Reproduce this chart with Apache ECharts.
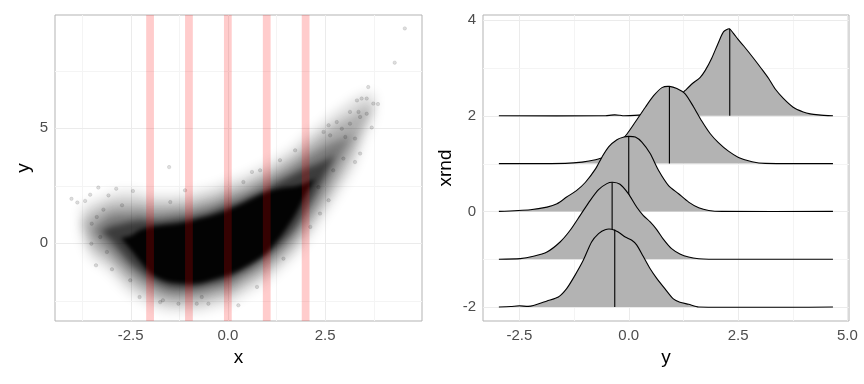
<!DOCTYPE html>
<html><head><meta charset="utf-8">
<script src="https://cdn.jsdelivr.net/npm/echarts@6/dist/echarts.min.js"></script>
<style>html,body{margin:0;padding:0;background:#fff}#c{width:864px;height:384px}</style>
</head><body><div id="c"></div>
<script>
// ---------------- data ----------------
// Left panel: red selection bands around these x values (half width in x units)
const bandCenters = [-2, -1, 0, 1, 2];
const bandHalf = 0.1;

// Point cloud described column by column: x, centre of cloud, and half-heights of
// nested density levels (sparse halo -> black core); 0 = level vanishes there.
const cloudX   = [-3.75,-3.5,-3.25,-3,-2.75,-2.5,-2.25,-2,-1.75,-1.5,-1.25,-1,-0.75,-0.5,-0.25,0,0.25,0.5,0.75,1,1.25,1.5,1.75,2,2.25,2.5,2.75,3,3.25,3.5,3.75];
const cloudMid = [0.9,0.55,0.5,0.42,0.22,0.02,-0.12,-0.3,-0.4,-0.45,-0.45,-0.42,-0.35,-0.25,-0.12,0.02,0.2,0.42,0.65,0.9,1.2,1.52,1.88,2.35,2.8,3.3,3.8,4.3,4.8,5.5,6.0];
const levelHalo = [0.6,1.2,1.45,1.7,2.0,2.2,2.3,2.35,2.45,2.5,2.5,2.55,2.6,2.6,2.6,2.65,2.6,2.55,2.55,2.5,2.45,2.4,2.35,2.3,2.15,2.0,1.85,1.65,1.45,0.95,0.45];
const levelLight = [0,0.7,1.0,1.25,1.5,1.7,1.85,1.95,2.05,2.1,2.15,2.15,2.2,2.2,2.2,2.25,2.2,2.15,2.15,2.1,2.05,2.0,1.9,1.8,1.65,1.5,1.3,1.05,0.75,0.35,0];
const levelMid = [0,0,0.45,0.8,1.05,1.25,1.45,1.55,1.65,1.75,1.8,1.8,1.85,1.85,1.85,1.9,1.85,1.8,1.8,1.75,1.7,1.6,1.5,1.35,1.15,0.9,0.6,0.25,0,0,0];
const levelDark = [0,0,0,0.3,0.6,0.9,1.1,1.25,1.35,1.45,1.5,1.55,1.55,1.55,1.6,1.6,1.55,1.55,1.5,1.45,1.4,1.3,1.15,0.9,0.6,0.3,0,0,0,0,0];
const levelCore = [0,0,0,0,0,0.3,0.7,1.0,1.15,1.25,1.3,1.35,1.4,1.4,1.4,1.42,1.42,1.4,1.38,1.32,1.15,0.9,0.6,0.25,0,0,0,0,0,0,0];

// isolated points visible around the cloud
const sparsePoints = [
  [-4.02,1.92],[-3.87,1.76],[-3.67,1.83],[-3.54,2.1],[-3.33,2.41],[-3.07,2.07],[-2.87,2.36],[-2.44,2.26],
  [-3.39,-0.97],[-2.98,-1.14],[-3.51,-0.03],[-3.37,1.13],[-3.5,0.84],[-3.2,1.45],[-2.72,1.64],[-2.27,-2.35],
  [-1.74,-2.57],[-2.51,-1.62],[-3.28,0.26],[-3.11,-0.39],[-1.51,3.3],[-1.1,2.29],[0.62,3.09],[0.83,3.16],
  [0.27,-2.71],[-0.5,-2.64],[-0.8,-2.64],[-1.27,-2.64],[-1.67,-2.49],[-0.67,-2.35],[-1.48,1.78],[0.4,2.65],
  [0.75,-1.91],[3.61,6.78],[3.44,6.28],[3.57,6.28],[3.74,6.06],[3.32,6.2],[3.14,5.7],[3.36,5.7],[3.7,5.02],
  [3.27,3.52],[3.4,3.89],[3.02,4.61],[2.8,5.26],[2.59,5.12],[2.46,4.83],[2.37,1.28],[2.59,1.86],[2.12,0.7],
  [1.43,-0.68],[1.73,4.03],[1.34,3.6],[4.55,9.33],[4.29,7.84],[3.86,6.04],
  [2.63,4.68],[2.93,4.97],[3.14,5.19],[3.27,4.54],[2.97,3.67],[2.71,3.16],[2.33,2.43],[3.4,5.48],[3.57,5.62]
];

// Right panel: ridgeline densities (x = y value, h = height above the ridge baseline)
const ridgeLevels = [2, 1, 0, -1, -2];
const ridge2X = [-2.97,-0.53,-0.4,-0.32,-0.2,-0.11,0.3,0.6,0.9,1.1,1.29,1.45,1.63,1.75,1.9,2.05,2.17,2.3,2.39,2.5,2.63,2.84,3.04,3.2,3.35,3.53,3.76,3.99,4.15,4.34,4.67];
const ridge2H = [0,0,0.015,0.02,0.01,0,0.02,0.08,0.22,0.36,0.53,0.67,0.8,0.95,1.21,1.53,1.76,1.82,1.73,1.6,1.46,1.22,0.98,0.78,0.56,0.37,0.18,0.08,0.04,0.02,0];
const ridge1X = [-2.97,-1.45,-1.07,-0.76,-0.57,-0.3,-0.04,0.15,0.38,0.57,0.76,0.93,1.1,1.29,1.48,1.67,1.86,2.05,2.28,2.51,2.82,3.12,4.67];
const ridge1H = [0,0.005,0.03,0.08,0.14,0.35,0.62,0.87,1.18,1.42,1.59,1.615,1.57,1.46,1.19,0.89,0.63,0.44,0.26,0.13,0.04,0.005,0];
const ridge0X = [-2.97,-2.25,-1.87,-1.64,-1.42,-1.19,-0.99,-0.76,-0.61,-0.46,-0.27,-0.11,0,0.15,0.3,0.49,0.68,0.91,1.14,1.37,1.6,1.83,2.13,4.67];
const ridge0H = [0,0.035,0.09,0.16,0.3,0.44,0.61,0.89,1.14,1.35,1.5,1.555,1.57,1.555,1.45,1.21,0.86,0.54,0.37,0.195,0.077,0.02,0,0];
const ridgeM1X = [-2.97,-2.48,-2.18,-1.87,-1.57,-1.34,-1.11,-0.88,-0.69,-0.5,-0.37,-0.2,-0.01,0.18,0.33,0.49,0.64,0.79,0.98,1.17,1.37,1.6,1.83,4.67];
const ridgeM1H = [0,0.012,0.061,0.151,0.36,0.605,0.918,1.232,1.455,1.581,1.609,1.567,1.371,1.092,0.918,0.779,0.62,0.42,0.22,0.11,0.045,0.01,0,0];
const ridgeM2X = [-2.97,-2.7,-2.5,-2.3,-2.18,-1.87,-1.61,-1.42,-1.23,-1.04,-0.85,-0.69,-0.54,-0.39,-0.24,-0.08,0.07,0.18,0.33,0.49,0.64,0.83,1.02,1.17,1.37,1.6,4.67];
const ridgeM2H = [0,0.01,0.025,0.012,0.03,0.126,0.209,0.384,0.662,0.976,1.36,1.534,1.618,1.625,1.569,1.464,1.395,1.3,1.06,0.8,0.6,0.38,0.17,0.1,0.056,0,0];
const medianX = [2.31, 0.93, 0.0, -0.38, -0.32];
const medianH = [1.82, 1.615, 1.57, 1.61, 1.62];

// axis ticks
const leftXMajor = [-2.5, 0, 2.5], leftXMinor = [-3.75, -1.25, 1.25, 3.75];
const leftYMajor = [0, 5], leftYMinor = [-2.5, 2.5, 7.5];
const rightXMajor = [-2.5, 0, 2.5, 5], rightXMinor = [-1.25, 1.25, 3.75];
const rightYMajor = [-2, 0, 2, 4], rightYMinor = [-1, 1, 3];

// ---------------- chart ----------------
const FONT = 'Liberation Sans, Arial, Helvetica, sans-serif';
const chart = echarts.init(document.getElementById('c'), null, {renderer: 'canvas'});

function gridItems(xMaj, xMin, yMaj, yMin) {
  const out = [];
  xMaj.forEach(v => out.push([v, 0, 1]));
  xMin.forEach(v => out.push([v, 0, 0]));
  yMaj.forEach(v => out.push([v, 1, 1]));
  yMin.forEach(v => out.push([v, 1, 0]));
  return out;
}
function gridRender(params, api) {
  const cs = params.coordSys;
  const v = api.value(0), dir = api.value(1), major = api.value(2);
  let shape;
  if (dir === 0) {
    const p = Math.round(api.coord([v, 0])[0]) + 0.5;
    shape = {x1: p, y1: cs.y, x2: p, y2: cs.y + cs.height};
  } else {
    const p = Math.round(api.coord([0, v])[1]) + 0.5;
    shape = {x1: cs.x, y1: p, x2: cs.x + cs.width, y2: p};
  }
  return {type: 'line', shape, style: {stroke: major ? '#ebebeb' : '#f4f4f4', lineWidth: 1}};
}

// nested density levels, drawn as soft (blurred) shapes
const levels = [levelHalo, levelLight, levelMid, levelDark, levelCore];
const levelAlpha = [0.15, 0.2, 0.3, 0.5, 0.95];
const levelBlur = [12, 10, 8, 6, 4];
const OFF = 4000;
function cloudRender(params, api) {
  const k = params.dataIndex, hw = levels[k];
  const top = [], bot = [];
  for (let i = 0; i < cloudX.length; i++) {
    const prevOn = i > 0 && hw[i - 1] > 0, nextOn = i < cloudX.length - 1 && hw[i + 1] > 0;
    if (hw[i] > 0 || prevOn || nextOn) {
      const a = api.coord([cloudX[i], cloudMid[i] + hw[i]]);
      const b = api.coord([cloudX[i], cloudMid[i] - hw[i]]);
      top.push([a[0] + OFF, a[1]]);
      bot.push([b[0] + OFF, b[1]]);
    }
  }
  const pts = top.concat(bot.reverse());
  return {type: 'polygon', shape: {points: pts, smooth: 0.3},
    style: {fill: '#000', shadowColor: 'rgba(0,0,0,' + levelAlpha[k] + ')',
      shadowBlur: levelBlur[k], shadowOffsetX: -OFF, shadowOffsetY: 0}};
}
function bandRender(params, api) {
  const cs = params.coordSys;
  const c = bandCenters[params.dataIndex];
  const x1 = api.coord([c - bandHalf, 0])[0], x2 = api.coord([c + bandHalf, 0])[0];
  return {type: 'rect', shape: {x: x1, y: cs.y, width: x2 - x1, height: cs.height},
    style: {fill: 'rgba(255,0,0,0.2)'}};
}

const ridgeXs = [ridge2X, ridge1X, ridge0X, ridgeM1X, ridgeM2X];
const ridgeHs = [ridge2H, ridge1H, ridge0H, ridgeM1H, ridgeM2H];
function ridgeRender(params, api) {
  const i = params.dataIndex;
  const base = ridgeLevels[i], X = ridgeXs[i], H = ridgeHs[i];
  const curve = X.map((x, j) => api.coord([x, base + H[j]]));
  const poly = curve.concat([api.coord([X[X.length - 1], base]), api.coord([X[0], base])]);
  const m0 = api.coord([medianX[i], base]), m1 = api.coord([medianX[i], base + medianH[i]]);
  return {type: 'group', children: [
    {type: 'polygon', z2: i * 3, shape: {points: poly, smooth: 0.25}, style: {fill: '#b3b3b3'}},
    {type: 'line', z2: i * 3 + 1, shape: {x1: m0[0], y1: m0[1], x2: m1[0], y2: m1[1]}, style: {stroke: '#000', lineWidth: 1.1}},
    {type: 'polyline', z2: i * 3 + 2, shape: {points: curve, smooth: 0.25}, style: {stroke: '#000', lineWidth: 1.1, fill: null}}
  ]};
}

const tickLabel = {color: '#4d4d4d', fontSize: 15, fontFamily: FONT};
const nameStyle = {color: '#000', fontSize: 19, fontFamily: FONT};
function valAxis(extra) {
  return Object.assign({
    type: 'value', axisLine: {show: false}, axisTick: {show: false},
    splitLine: {show: false}, minorSplitLine: {show: false},
    nameLocation: 'middle', nameTextStyle: nameStyle
  }, extra);
}

chart.setOption({
  animation: false,
  backgroundColor: '#fff',
  grid: [
    {left: 55, top: 15, width: 367, height: 306, show: true, borderColor: '#b3b3b3', borderWidth: 1, backgroundColor: 'transparent', containLabel: false, outerBoundsMode: 'none'},
    {left: 483, top: 15, width: 366, height: 306, show: true, borderColor: '#b3b3b3', borderWidth: 1, backgroundColor: 'transparent', containLabel: false, outerBoundsMode: 'none'}
  ],
  xAxis: [
    valAxis({gridIndex: 0, min: -4.444, max: 4.992, name: 'x', nameGap: 27,
      axisLabel: Object.assign({customValues: leftXMajor, margin: 7, formatter: v => v.toFixed(1)}, tickLabel)}),
    valAxis({gridIndex: 1, min: -3.333, max: 5.037, name: 'y', nameGap: 27,
      axisLabel: Object.assign({customValues: rightXMajor, margin: 7, formatter: v => v.toFixed(1)}, tickLabel)})
  ],
  yAxis: [
    valAxis({gridIndex: 0, min: -3.391, max: 9.913, name: 'y', nameGap: 22,
      axisLabel: Object.assign({customValues: leftYMajor, margin: 7, formatter: v => String(v)}, tickLabel)}),
    valAxis({gridIndex: 1, min: -2.293, max: 4.109, name: 'xrnd', nameGap: 28,
      axisLabel: Object.assign({customValues: rightYMajor, margin: 7, formatter: v => String(v)}, tickLabel)})
  ],
  series: [
    {type: 'custom', xAxisIndex: 0, yAxisIndex: 0, z: 1, silent: true,
      data: gridItems(leftXMajor, leftXMinor, leftYMajor, leftYMinor), renderItem: gridRender},
    {type: 'custom', xAxisIndex: 1, yAxisIndex: 1, z: 1, silent: true,
      data: gridItems(rightXMajor, rightXMinor, rightYMajor, rightYMinor), renderItem: gridRender},
    {type: 'custom', xAxisIndex: 0, yAxisIndex: 0, z: 2, silent: true, clip: false,
      data: levels.map(() => [0, 0]), renderItem: cloudRender},
    {type: 'scatter', xAxisIndex: 0, yAxisIndex: 0, z: 3, silent: true,
      symbolSize: 3.5, itemStyle: {color: 'rgba(0,0,0,0.16)', borderColor: 'rgba(0,0,0,0.22)', borderWidth: 0.5},
      data: sparsePoints},
    {type: 'custom', xAxisIndex: 0, yAxisIndex: 0, z: 4, silent: true,
      data: bandCenters.map(c => [c, 0]), renderItem: bandRender},
    {type: 'custom', xAxisIndex: 1, yAxisIndex: 1, z: 3, silent: true,
      data: ridgeLevels.map(l => [0, l]), renderItem: ridgeRender}
  ]
});
</script></body></html>
